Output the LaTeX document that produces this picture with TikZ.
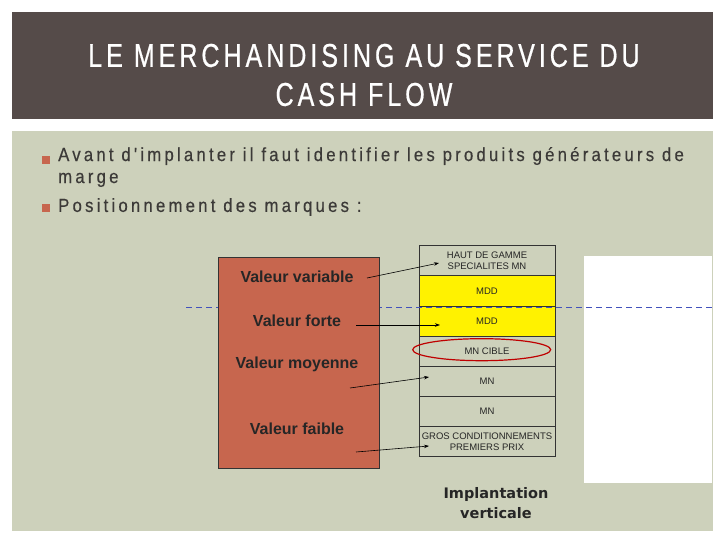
\documentclass[tikz,border=0pt]{standalone}
\usepackage{fontspec}
\setmainfont{Liberation Sans}
\newfontfamily\titlefont[FakeStretch=0.76,LetterSpace=12,FakeBold=0.6]{Liberation Sans}
\newfontfamily\bulletfont[FakeStretch=0.88,LetterSpace=17,FakeBold=0.4]{Liberation Sans}
\newfontfamily\vfont{DejaVu Sans}
\usetikzlibrary{arrows.meta,positioning}

\definecolor{bandgrey}{HTML}{554B49}
\definecolor{panelgreen}{HTML}{CDD1BB}
\definecolor{brick}{HTML}{C7664E}
\definecolor{txtgrey}{HTML}{3C3A38}
\definecolor{dashblue}{HTML}{4252BC}

\tikzset{
  row/.style={draw=black!80,line width=0.9pt,minimum width=136pt,minimum height=30.14pt,
    inner sep=0pt,outer sep=0pt,font=\fontsize{9.5}{11}\selectfont,align=center,text=black!85},
  valeur/.style={font=\bfseries\fontsize{16}{18}\selectfont,text=black!85},
  fleche/.style={line width=0.6pt,-{Stealth[length=5pt,width=3.5pt]}},
  puce/.style={fill=brick,minimum size=8pt,inner sep=0pt}
}

\begin{document}
\begin{tikzpicture}[x=1pt,y=-1pt]
\useasboundingbox (0,0) rectangle (728,546);

% the title band
\fill[bandgrey] (12,12) rectangle (713,119);
\node[text=white,font=\titlefont\fontsize{33}{39}\selectfont,align=center] (titre) at (364,75)
  {LE MERCHANDISING AU SERVICE DU\\CASH FLOW};

% the green panel and the white box
\fill[panelgreen] (12,131) rectangle (713,531);
\fill[white] (584,256) rectangle (712,483);

% bullets
\node[puce] (p1) at (46,160) {};
\node[puce] (p2) at (46,208) {};
\node[anchor=west,font=\bulletfont\fontsize{19}{22}\selectfont,text=txtgrey,align=left,inner sep=0pt] (b1) at (58,167)
  {Avant d'implanter il faut identifier les produits générateurs de\\marge};
\node[anchor=west,font=\bulletfont\fontsize{19}{22}\selectfont,text=txtgrey,inner sep=0pt] (b2) at (58,207)
  {Positionnement des marques :};

% the vertical stack
\node[row,anchor=north west] (r1) at (419,245.7) {HAUT DE GAMME\\SPECIALITES MN};
\node[row,fill=yellow,below=0pt of r1] (r2) {MDD};
\node[row,fill=yellow,below=0pt of r2] (r3) {MDD};
\node[row,below=0pt of r3] (r4) {MN CIBLE};
\node[row,below=0pt of r4] (r5) {MN};
\node[row,below=0pt of r5] (r6) {MN};
\node[row,below=0pt of r6] (r7) {GROS CONDITIONNEMENTS\\PREMIERS PRIX};

% the dashed line
\draw[dashblue,line width=1.3pt,dash pattern=on 6pt off 4pt] (186,307.3) coordinate (d1) -- (713,307.3) coordinate (d2);

% the brick box and its labels
\node[draw=black!80,fill=brick,line width=0.8pt,anchor=north west,minimum width=160.7pt,minimum height=211.6pt,inner sep=0pt] (valeurs) at (218,256.7) {};
\node[valeur] (v1) at (297,276.7) {Valeur variable};
\node[valeur] (v2) at (297,321) {Valeur forte};
\node[valeur] (v3) at (297,364) {Valeur moyenne};
\node[valeur] (v4) at (297,429) {Valeur faible};

% the ellipse round MN CIBLE
\draw[red!75!black,line width=1.2pt] (r4.center) ++(-5.3,-1.5) ellipse [x radius=69,y radius=11];

% arrows
\coordinate (a1) at (367,278);   \coordinate (e1) at (439,263);
\coordinate (a2) at (356,325);   \coordinate (e2) at (440,325);
\coordinate (a3) at (350,388);   \coordinate (e3) at (429,377);
\coordinate (a4) at (356,452);   \coordinate (e4) at (429,446);
\draw[fleche] (a1) -- (e1);
\draw[fleche] (a2) -- (e2);
\draw[fleche] (a3) -- (e3);
\draw[fleche] (a4) -- (e4);

% caption under the stack
\node[font=\vfont\bfseries\fontsize{14.5}{20}\selectfont,align=center,text=black!85] (legende) at (496,503)
  {Implantation\\verticale};
\end{tikzpicture}
\end{document}
